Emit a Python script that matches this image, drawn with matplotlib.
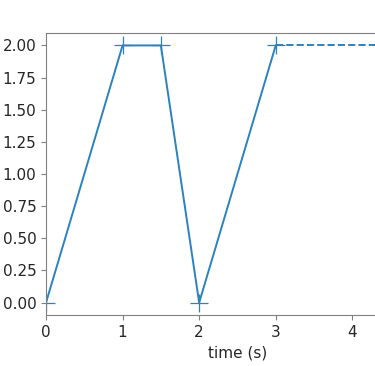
import matplotlib
matplotlib.use("Agg")
import matplotlib.pyplot as plt

# waypoints of the trajectory
t = [0, 1, 1.5, 2, 3]
pos = [0, 2, 2, 0, 2]
# hold after the last waypoint
t_hold = [3, 5]
pos_hold = [2, 2]
xticks = [0, 1, 2, 3, 4]
yticks = [0, 0.25, 0.5, 0.75, 1.0, 1.25, 1.5, 1.75, 2.0]

grey = "#808080"

fig = plt.figure(figsize=(3.75, 3.66), dpi=100)
ax = fig.add_axes([0.1227, 0.138, 1.021, 0.773])

ax.plot(t, pos, color="#2a82c0", lw=1.4, marker="+", ms=13, mew=0.9)
ax.plot(t_hold, pos_hold, color="#2a82c0", lw=1.4, ls="--")

ax.set_xlim(0, 5)
ax.set_ylim(-0.1, 2.1)
ax.set_xticks(xticks)
ax.set_yticks(yticks)
ax.set_xlabel("time (s)", fontsize=11, color="#262626")
ax.set_ylabel("position (m)", fontsize=11, color="#262626", labelpad=18)

for s in ax.spines.values():
    s.set_color(grey)
ax.tick_params(colors=grey, labelcolor="#262626", labelsize=11)

fig.savefig("out.png", dpi=100)
